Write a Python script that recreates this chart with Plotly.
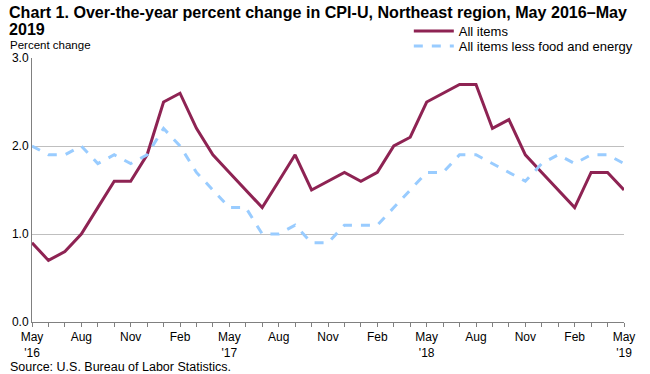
import plotly.graph_objects as go

months = ["May", "Jun", "Jul", "Aug", "Sep", "Oct", "Nov", "Dec", "Jan", "Feb", "Mar", "Apr"] * 3 + ["May"]
years = ["'16", "'17", "'18", "'19"]
all_items = [0.9, 0.7, 0.8, 1.0, 1.3, 1.6, 1.6, 1.9, 2.5, 2.6, 2.2, 1.9,
             1.7, 1.5, 1.3, 1.6, 1.9, 1.5, 1.6, 1.7, 1.6, 1.7, 2.0, 2.1,
             2.5, 2.6, 2.7, 2.7, 2.2, 2.3, 1.9, 1.7, 1.5, 1.3, 1.7, 1.7, 1.5]
core = [2.0, 1.9, 1.9, 2.0, 1.8, 1.9, 1.8, 1.9, 2.2, 2.0, 1.7, 1.5,
        1.3, 1.3, 1.0, 1.0, 1.1, 0.9, 0.9, 1.1, 1.1, 1.1, 1.3, 1.5,
        1.7, 1.7, 1.9, 1.9, 1.8, 1.7, 1.6, 1.8, 1.9, 1.8, 1.9, 1.9, 1.8]
y_ticks = [0.0, 1.0, 2.0, 3.0]
title_lines = ["Chart 1. Over-the-year percent change in CPI-U, Northeast region, May 2016–May", "2019"]

idx = list(range(len(months)))
ticktext = []
for i, m in enumerate(months):
    if i % 12 == 0:
        ticktext.append(f"{m}<br>{years[i // 12]}")
    elif i % 3 == 0:
        ticktext.append(m)
    else:
        ticktext.append("")

FONT = "Liberation Sans, Arial, sans-serif"
fig = go.Figure()
fig.add_trace(go.Scatter(x=idx, y=all_items, mode="lines", name="All items",
                         line=dict(color="#8E2353", width=3), legend="legend"))
fig.add_trace(go.Scatter(x=idx, y=core, mode="lines", name="All items less food and energy",
                         line=dict(color="#99CCFF", width=3, dash="dash"), legend="legend2"))

L, R, T, B = 29, 13, 58, 52
W, H = 650, 374
pw, ph = W - L - R, H - T - B

def px(x):
    return (x - L) / pw

def py(y):
    return (H - B - y) / ph

leg_common = dict(xanchor="left", yanchor="middle", bgcolor="rgba(0,0,0,0)",
                  font=dict(size=13, family=FONT), itemwidth=40,
                  borderwidth=0)

fig.update_layout(
    width=W, height=H,
    margin=dict(l=L, r=R, t=T, b=B),
    paper_bgcolor="white", plot_bgcolor="white",
    font=dict(family=FONT, size=12, color="#000000"),
    showlegend=True,
    legend=dict(x=px(416), y=py(31), **leg_common),
    legend2=dict(x=px(416), y=py(46), **leg_common),
    xaxis=dict(range=[0, 36], tickmode="array", tickvals=idx, ticktext=ticktext,
               ticks="outside", ticklen=4, tickcolor="#808080", tickwidth=1,
               showline=True, linecolor="#808080", linewidth=1,
               showgrid=False, zeroline=False, tickfont=dict(size=12)),
    xaxis2=dict(range=[0, 36], overlaying="x", anchor="y", side="bottom",
                tickmode="array", tickvals=idx, ticks="inside", ticklen=4,
                tickcolor="#808080", showticklabels=False, showline=False,
                showgrid=False, zeroline=False),
    yaxis=dict(range=[0, 3], tickmode="array", tickvals=y_ticks,
               ticktext=[f"{v:.1f}" for v in y_ticks],
               showgrid=True, gridcolor="#BFBFBF", gridwidth=1,
               showline=True, linecolor="#808080", linewidth=1,
               zeroline=False, ticks="", tickfont=dict(size=12)),
    yaxis2=dict(range=[0, 3], overlaying="y", side="right", anchor="x",
                showline=True, linecolor="#C8C8C8", showticklabels=False,
                showgrid=False, zeroline=False, ticks=""),
)

for line_text, yc in zip(title_lines, [12, 29]):
    fig.add_annotation(x=px(3), y=py(yc), xref="paper", yref="paper", xanchor="left", yanchor="middle",
                       text=f"<b>{line_text}</b>", showarrow=False, align="left",
                       font=dict(size=16.1, family=FONT))
fig.add_annotation(x=px(4), y=py(45), xref="paper", yref="paper", xanchor="left", yanchor="middle",
                   text="Percent change", showarrow=False, font=dict(size=11.5, family=FONT))
fig.add_annotation(x=px(4), y=py(367), xref="paper", yref="paper", xanchor="left", yanchor="middle",
                   text="Source: U.S. Bureau of Labor Statistics.", showarrow=False,
                   font=dict(size=12.5, family=FONT))

fig.write_html("out.html", config={"displayModeBar": False},
               post_script="document.body.style.margin='0px';")
